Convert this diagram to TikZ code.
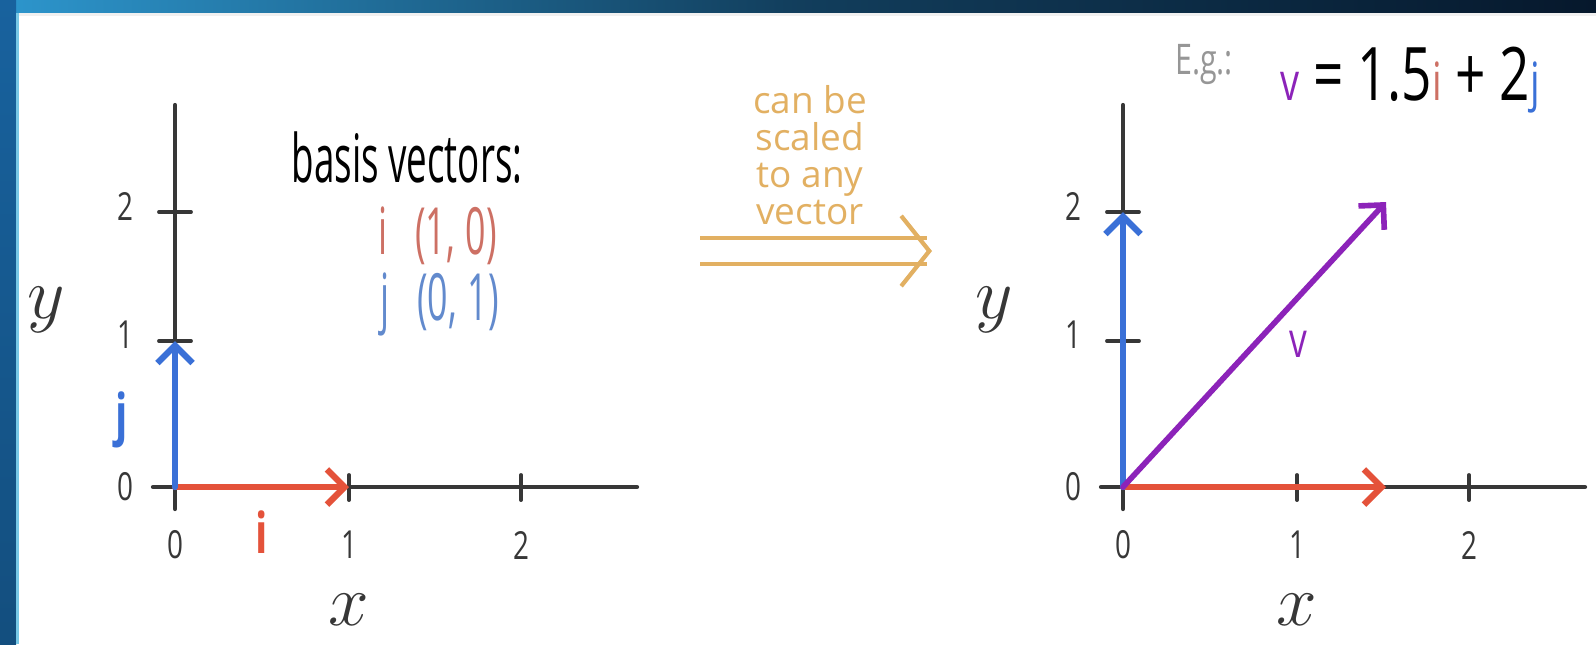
\documentclass[tikz,border=0pt]{standalone}
\usepackage{fontspec}
\setmainfont{Open Sans}
\newfontfamily\handfont[FakeStretch=0.72]{Open Sans}
\newfontfamily\narrowfont[FakeStretch=0.55]{Open Sans}
\usetikzlibrary{arrows.meta}

\definecolor{axisgray}{RGB}{55,55,55}
\definecolor{ired}{RGB}{228,82,58}
\definecolor{itext}{RGB}{205,112,100}
\definecolor{jblue}{RGB}{58,112,215}
\definecolor{jtext}{RGB}{98,138,205}
\definecolor{vpurple}{RGB}{140,35,185}
\definecolor{scaleorange}{RGB}{226,176,98}
\definecolor{egray}{RGB}{150,150,150}
\definecolor{bandnavy}{RGB}{6,24,44}
\definecolor{bandteal}{RGB}{45,150,205}
\definecolor{sideblue}{RGB}{24,98,158}
\definecolor{sidecyan}{RGB}{120,200,230}

\tikzset{
  axis/.style={axisgray, line width=1.2pt},
  tick/.style={axisgray, line width=1.1pt},
  ticklabel/.style={text=axisgray, inner sep=1pt, font=\handfont\fontsize{11}{11}\selectfont},
  axisname/.style={text=axisgray, inner sep=1pt, font=\fontsize{20}{20}\selectfont},
  vecarrow/.style={line width=1.8pt, ->},
  veclabel/.style={inner sep=1pt, font=\handfont\bfseries\fontsize{16}{16}\selectfont},
  coordtext/.style={inner sep=0pt, font=\narrowfont\fontsize{18.5}{18.5}\selectfont},
}

\begin{document}
\begin{tikzpicture}[x=0.01cm, y=-0.01cm, >={Straight Barb[length=5pt, width=10pt]}, line cap=round]
    \useasboundingbox (0,0) rectangle (1596,644);

    % frame of the slide
    \fill[white] (0,0) rectangle (1596,644);
    \shade[left color=bandteal, right color=bandnavy, middle color=bandnavy!70!bandteal] (0,0) rectangle (1596,13);
    \fill[black!6] (0,13) rectangle (1596,16);
    \shade[top color=sideblue, bottom color=sideblue!80!black] (0,0) rectangle (16,644);
    \fill[sidecyan] (16,13) rectangle (19,644);

    % two coordinate systems, the second one shifted to the right
    \foreach \ox/\p in {0/a, 948/b} {
        \coordinate (o\p) at (175+\ox,487);
        \coordinate (xl\p) at (153+\ox,487);
        \coordinate (xr\p) at (637+\ox,487);
        \coordinate (yb\p) at (175+\ox,509);
        \coordinate (yt\p) at (175+\ox,105);
        \draw[axis] (xl\p) -- (xr\p);
        \draw[axis] (yb\p) -- (yt\p);

        % ticks on x
        \foreach \n/\dx in {1/174, 2/346} {
            \coordinate (tx\p\n) at (175+\ox+\dx,487);
            \draw[tick] (tx\p\n) ++(0,-12) -- ++(0,25);
            \node[ticklabel] (nx\p\n) at (175+\ox+\dx,545) {\n};
        }
        % ticks on y
        \foreach \n/\yy in {1/341, 2/212} {
            \coordinate (ty\p\n) at (175+\ox,\yy);
            \draw[tick] (ty\p\n) ++(-16,0) -- ++(32,0);
            \node[ticklabel] (ny\p\n) at (125+\ox,\yy-6) {\n};
        }
        \node[ticklabel] (nx\p0) at (175+\ox,545) {0};
        \node[ticklabel] (ny\p0) at (125+\ox,487) {0};

        % axis names
        \node[axisname] (xname\p) at (349+\ox,610) {$x$};
        \node[axisname] (yname\p) at (46+\ox,310) {$y$};
    }

    % basis vectors, left
    \coordinate (ia) at (349,487);
    \coordinate (ja) at (175,341);
    \draw[vecarrow, ired] (oa) -- (ia);
    \draw[vecarrow, jblue] (oa) -- (ja);
    \node[veclabel, ired] (ilab) at (262,532) {i};
    \node[veclabel, jblue] (jlab) at (122,420) {j};

    \node[inner sep=1pt, font=\narrowfont\fontsize{19}{19}\selectfont] (basis) at (407,158) {basis vectors:};
    \node[coordtext, text=itext] (icoord) at (438,236) {i\; (1,\,0)};
    \node[coordtext, text=jtext] (jcoord) at (440,304) {j\; (0,\,1)};

    % scaling arrow
    \node[text=scaleorange, align=center, font=\fontsize{10.5}{10.5}\selectfont] (scaled) at (810,155) {can be\\scaled\\to any\\vector};
    \coordinate (dstart) at (700,251);
    \coordinate (dend) at (932,251);
    \draw[scaleorange, line width=1.2pt, double distance=6.3pt, line cap=butt,
          -{Straight Barb[length=8pt, width=20pt, line width=1.2pt]}] (dstart) -- (dend);

    % scaled vectors, right
    \coordinate (ib) at (1386,487);
    \coordinate (jb) at (1123,212);
    \coordinate (vb) at (1386,202);
    \draw[vecarrow, ired] (ob) -- (ib);
    \draw[vecarrow, jblue] (ob) -- (jb);
    \draw[vecarrow, vpurple, line width=1.6pt] (ob) -- (vb);
    \node[text=vpurple, font=\handfont\fontsize{14}{14}\selectfont] (vlab) at (1298,344) {v};

    \node[text=egray, font=\handfont\fontsize{12}{12}\selectfont] (eg) at (1204,64) {E.g.:};
    \node[font=\handfont\fontsize{21}{21}\selectfont] (formula) at (1410,80)
        {{\color{vpurple}\fontsize{15}{15}\selectfont v} = 1.5{\color{itext}\fontsize{15}{15}\selectfont i} + 2{\color{jblue}\fontsize{15}{15}\selectfont j}};
\end{tikzpicture}
\end{document}
